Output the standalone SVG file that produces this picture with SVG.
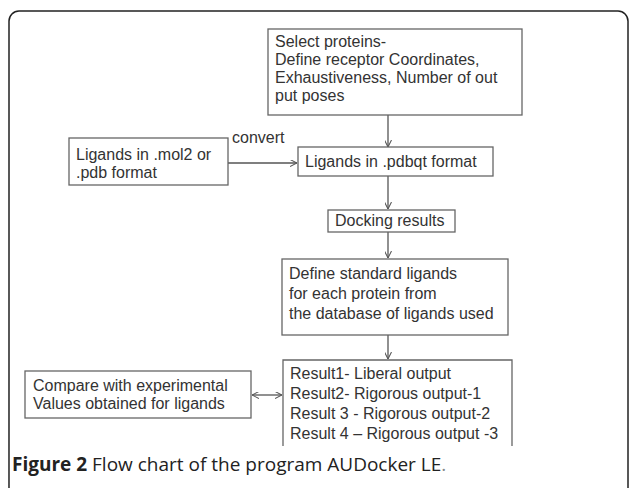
<svg xmlns="http://www.w3.org/2000/svg" width="629" height="488" viewBox="0 0 629 488">
<defs>
<marker id="ah" viewBox="0 0 10 10" refX="10" refY="5" markerWidth="7" markerHeight="7" orient="auto-start-reverse" markerUnits="userSpaceOnUse">
<path d="M0,0 L10,5 L0,10" fill="none" stroke="#555" stroke-width="1.5"/>
</marker>
</defs>
<style>
.box{fill:#fff;stroke:#666;stroke-width:1.3}
.t{font-family:"Liberation Sans",Arial,sans-serif;font-size:16px;fill:#333}
.c{stroke:#555;stroke-width:1.3;fill:none}
.cap{font-family:"Open Sans","Noto Sans",sans-serif;font-size:19px;fill:#222}
</style>
<rect x="0" y="0" width="629" height="488" fill="#fff"/>
<rect x="9" y="11" width="619" height="495" rx="10" fill="none" stroke="#222" stroke-width="1.5"/>
<g id="connectors">
<line class="c" x1="388" y1="115" x2="388" y2="147" marker-end="url(#ah)"/>
<line class="c" x1="228" y1="163" x2="297" y2="163" marker-end="url(#ah)"/>
<line class="c" x1="388" y1="176" x2="388" y2="209" marker-end="url(#ah)"/>
<line class="c" x1="388" y1="232" x2="388" y2="258" marker-end="url(#ah)"/>
<line class="c" x1="388" y1="335" x2="388" y2="359" marker-end="url(#ah)"/>
<line class="c" x1="252" y1="395" x2="282" y2="395" marker-start="url(#ah)" marker-end="url(#ah)"/>
<text class="t" x="232" y="143">convert</text>
</g>
<g id="select">
<rect class="box" x="268" y="29" width="254" height="86"/>
<text class="t" x="275" y="47">Select proteins-</text>
<text class="t" x="275" y="65">Define receptor Coordinates,</text>
<text class="t" x="275" y="83">Exhaustiveness, Number of out</text>
<text class="t" x="275" y="101">put poses</text>
</g>
<g id="ligandsIn">
<rect class="box" x="69" y="138" width="159" height="47"/>
<text class="t" x="76" y="160">Ligands in .mol2 or</text>
<text class="t" x="76" y="178">.pdb format</text>
</g>
<g id="pdbqt">
<rect class="box" x="298" y="147" width="195" height="29"/>
<text class="t" x="305" y="167">Ligands in .pdbqt format</text>
</g>
<g id="docking">
<rect class="box" x="328" y="210" width="127" height="22"/>
<text class="t" x="335" y="226">Docking results</text>
</g>
<g id="define">
<rect class="box" x="282" y="259" width="226" height="76"/>
<text class="t" x="289" y="279">Define standard ligands</text>
<text class="t" x="289" y="299">for each protein from</text>
<text class="t" x="289" y="319">the database of ligands used</text>
</g>
<g id="results">
<path class="box" d="M283,446 L283,360 L512,360 L512,446"/>
<text class="t" x="290" y="379">Result1- Liberal output</text>
<text class="t" x="290" y="399">Result2- Rigorous output-1</text>
<text class="t" x="290" y="419">Result 3 - Rigorous output-2</text>
<text class="t" x="290" y="439">Result 4 – Rigorous output -3</text>
</g>
<g id="compare">
<rect class="box" x="25" y="371" width="226" height="47"/>
<text class="t" x="33" y="391">Compare with experimental</text>
<text class="t" x="33" y="409">Values obtained for ligands</text>
</g>
<text class="cap" x="12" y="471"><tspan font-weight="bold">Figure 2</tspan> Flow chart of the program AUDocker LE<tspan fill="#888">.</tspan></text>
</svg>
